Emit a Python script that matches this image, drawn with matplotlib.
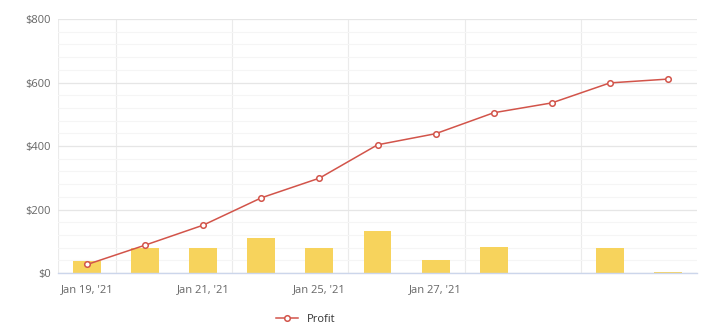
import numpy as np
import matplotlib.pyplot as plt

plt.rcParams['font.family'] = ['Open Sans', 'DejaVu Sans']

# データ
dates = ["Jan 19, '21", "Jan 20, '21", "Jan 21, '21", "Jan 22, '21", "Jan 25, '21",
         "Jan 26, '21", "Jan 27, '21", "Jan 28, '21", "Jan 29, '21", "Feb 1, '21", "Feb 2, '21"]
tick_labels = ["Jan 19, '21", "", "Jan 21, '21", "", "Jan 25, '21",
               "", "Jan 27, '21", "", "", "", ""]
daily = [38, 78, 80, 109, 78, 133, 41, 83, 0, 80, 4]
profit = [27, 88, 151, 237, 299, 404, 439, 505, 536, 599, 611]

fig = plt.figure(figsize=(7.02, 3.29), dpi=100)
ax = fig.add_axes([0.0826, 0.170, 0.9104, 0.772])

x = np.arange(len(dates))
ax.bar(x, daily, width=0.48, color="#f7d35c", zorder=2)
ax.plot(x, profit, color="#d2544a", linewidth=1.1, marker="o", markersize=4,
        markerfacecolor="white", markeredgecolor="#d2544a", markeredgewidth=1.1,
        label="Profit", zorder=3)

ax.set_xlim(-0.5, len(dates) - 0.5)
ax.set_ylim(0, 800)

# y軸
ax.set_yticks(np.arange(0, 801, 200))
ax.set_yticklabels(["$%d" % v for v in range(0, 801, 200)])
ax.set_yticks(np.arange(0, 801, 40), minor=True)
ax.grid(axis="y", which="major", color="#e6e6e6", linewidth=0.9, zorder=0)
ax.grid(axis="y", which="minor", color="#f5f5f5", linewidth=0.8, zorder=0)

# x軸
ax.set_xticks(x)
ax.set_xticklabels(tick_labels)
for xv in [-0.5, 0.5, 2.5, 4.5, 6.5, 8.5]:
    ax.axvline(xv, color="#ebebeb", linewidth=0.8, zorder=0)

ax.tick_params(axis="both", which="both", length=0, colors="#666666", labelsize=8)
ax.tick_params(axis="x", pad=8)
ax.tick_params(axis="y", pad=5)
for s in ["top", "right", "left"]:
    ax.spines[s].set_visible(False)
ax.spines["bottom"].set_color("#ccd6eb")
ax.spines["bottom"].set_linewidth(1)

fig.legend(loc="center", bbox_to_anchor=(0.435, 0.03), frameon=False, fontsize=8,
           handlelength=2, labelcolor="#333333")

plt.savefig("out.png", dpi=100)
